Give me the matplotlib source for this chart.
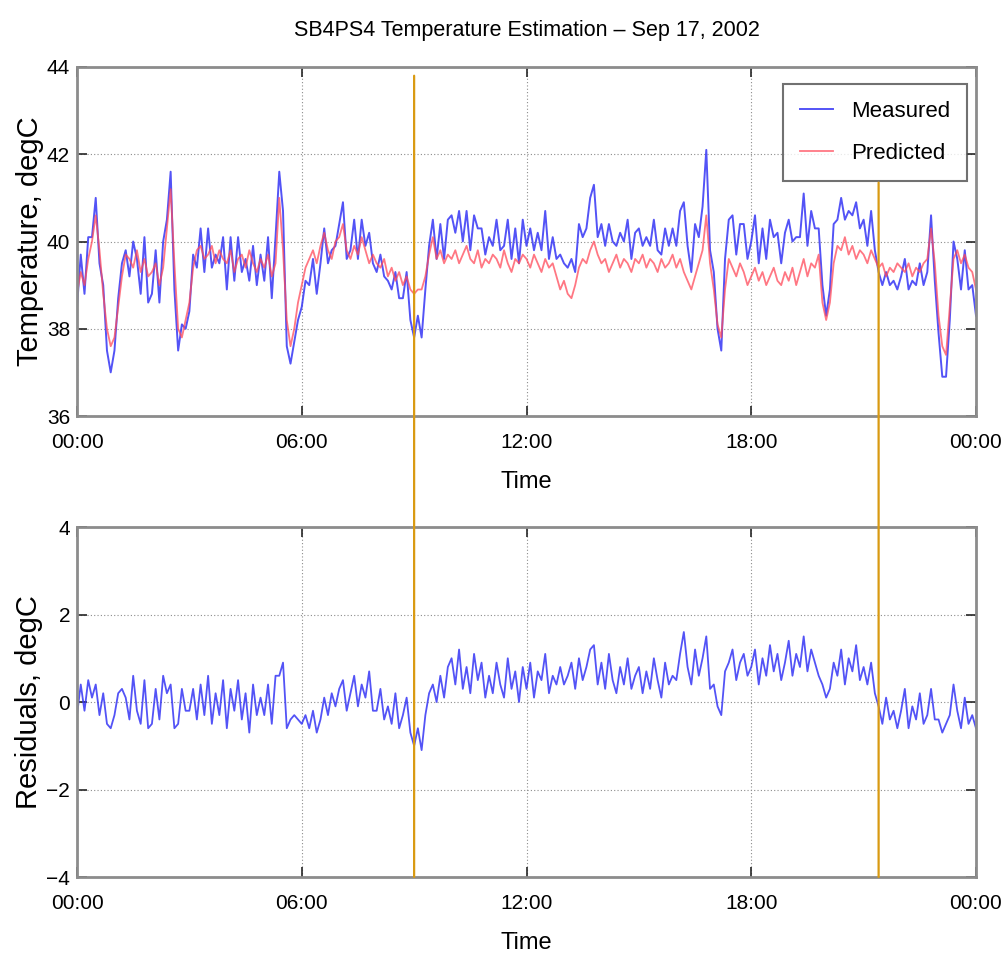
import numpy as np
import matplotlib
matplotlib.use("Agg")
import matplotlib.pyplot as plt
from matplotlib.patches import ConnectionPatch

# ---------------- data (6-minute samples) ----------------
title = "SB4PS4 Temperature Estimation \u2013 Sep 17, 2002"
sample_hours = 0.1

# predicted temperature, one row per hour (10 samples each)
predicted_rows = [
    [38.8, 39.3, 39.0, 39.6, 40.0, 40.6, 39.8, 38.8, 38.0, 37.6],
    [37.8, 38.5, 39.2, 39.7, 39.6, 39.4, 39.8, 39.3, 39.6, 39.2],
    [39.3, 39.5, 39.0, 39.4, 40.3, 41.2, 39.5, 38.0, 37.8, 38.2],
    [38.6, 39.4, 39.8, 39.9, 39.6, 39.7, 39.9, 39.5, 39.8, 39.6],
    [39.5, 39.8, 39.3, 39.6, 39.7, 39.4, 39.8, 39.5, 39.3, 39.6],
    [39.4, 39.7, 39.2, 39.5, 41.0, 39.8, 38.2, 37.6, 38.0, 38.6],
    [39.0, 39.4, 39.6, 39.8, 39.5, 39.9, 40.2, 39.8, 39.6, 40.0],
    [40.1, 40.4, 39.8, 39.6, 39.9, 39.7, 40.1, 39.8, 39.5, 39.7],
    [39.5, 39.4, 39.6, 39.2, 39.4, 39.1, 39.3, 39.0, 39.2, 38.9],
    [38.8, 38.9, 38.9, 39.2, 39.7, 40.1, 39.6, 39.8, 39.5, 39.7],
    [39.6, 39.8, 39.5, 39.7, 39.9, 39.6, 39.5, 39.8, 39.4, 39.6],
    [39.5, 39.7, 39.6, 39.4, 39.8, 39.5, 39.3, 39.6, 39.5, 39.7],
    [39.6, 39.4, 39.7, 39.5, 39.3, 39.6, 39.4, 39.5, 39.2, 38.9],
    [39.1, 38.8, 38.7, 39.0, 39.4, 39.6, 39.5, 39.8, 40.0, 39.7],
    [39.5, 39.6, 39.3, 39.5, 39.7, 39.4, 39.6, 39.5, 39.3, 39.6],
    [39.5, 39.7, 39.4, 39.6, 39.5, 39.3, 39.6, 39.4, 39.5, 39.7],
    [39.4, 39.6, 39.3, 39.1, 38.9, 39.2, 39.5, 39.8, 40.6, 39.5],
    [38.9, 38.1, 37.8, 38.9, 39.6, 39.4, 39.2, 39.5, 39.3, 39.0],
    [39.2, 39.4, 39.1, 39.3, 39.0, 39.2, 39.4, 39.1, 39.0, 39.3],
    [39.1, 39.4, 39.0, 39.3, 39.6, 39.2, 39.5, 39.4, 39.7, 38.6],
    [38.2, 38.6, 39.5, 39.9, 39.8, 40.1, 39.7, 39.9, 39.6, 39.8],
    [39.7, 39.5, 39.8, 39.6, 39.4, 39.5, 39.2, 39.4, 39.3, 39.5],
    [39.4, 39.3, 39.5, 39.2, 39.4, 39.3, 39.5, 39.6, 40.3, 39.5],
    [38.3, 37.6, 37.4, 38.5, 39.6, 39.8, 39.5, 39.7, 39.4, 39.3],
    [38.9],
]

# residuals (measured - predicted), one row per hour
residual_rows = [
    [-0.3, 0.4, -0.2, 0.5, 0.1, 0.4, -0.3, 0.2, -0.5, -0.6],
    [-0.3, 0.2, 0.3, 0.1, -0.4, 0.6, -0.2, -0.5, 0.5, -0.6],
    [-0.5, 0.3, -0.4, 0.6, 0.2, 0.4, -0.6, -0.5, 0.3, -0.2],
    [-0.2, 0.3, -0.4, 0.4, -0.3, 0.6, -0.5, 0.2, -0.3, 0.5],
    [-0.6, 0.3, -0.2, 0.5, -0.4, 0.2, -0.7, 0.4, -0.3, 0.1],
    [-0.3, 0.4, -0.5, 0.6, 0.6, 0.9, -0.6, -0.4, -0.3, -0.4],
    [-0.5, -0.3, -0.6, -0.2, -0.7, -0.4, 0.1, -0.3, 0.2, -0.1],
    [0.3, 0.5, -0.2, 0.2, 0.6, -0.1, 0.4, 0.1, 0.7, -0.2],
    [-0.2, 0.3, -0.4, -0.1, -0.5, 0.2, -0.6, -0.3, 0.1, -0.7],
    [-1.0, -0.6, -1.1, -0.3, 0.2, 0.4, 0.0, 0.6, 0.1, 0.8],
    [1.0, 0.4, 1.2, 0.3, 0.8, 0.2, 1.1, 0.5, 0.9, 0.1],
    [0.6, 0.2, 0.9, 0.4, 0.1, 1.0, 0.3, 0.7, 0.0, 0.8],
    [0.3, 0.9, 0.1, 0.7, 0.5, 1.1, 0.2, 0.6, 0.4, 0.8],
    [0.4, 0.6, 0.9, 0.3, 1.0, 0.5, 0.8, 1.2, 1.3, 0.4],
    [0.9, 0.3, 1.1, 0.5, 0.2, 0.8, 0.4, 1.0, 0.3, 0.6],
    [0.8, 0.2, 0.7, 0.3, 1.0, 0.5, 0.1, 0.9, 0.4, 0.6],
    [0.5, 1.1, 1.6, 0.8, 0.4, 1.2, 0.6, 1.0, 1.5, 0.3],
    [0.4, -0.1, -0.3, 0.7, 0.9, 1.2, 0.5, 0.9, 1.1, 0.6],
    [0.8, 1.2, 0.4, 1.0, 0.6, 1.3, 0.7, 1.1, 0.5, 0.9],
    [1.4, 0.6, 1.1, 0.8, 1.5, 0.7, 1.2, 0.9, 0.6, 0.4],
    [0.1, 0.3, 0.9, 0.6, 1.2, 0.4, 1.0, 0.7, 1.3, 0.5],
    [0.8, 0.4, 0.9, 0.2, -0.1, -0.5, 0.1, -0.4, -0.2, -0.6],
    [-0.2, 0.3, -0.6, -0.1, -0.4, 0.2, -0.5, -0.3, 0.3, -0.4],
    [-0.4, -0.7, -0.5, -0.3, 0.4, -0.2, -0.6, 0.1, -0.5, -0.3],
    [-0.6],
]

xtick_hours = [0, 6, 12, 18, 24]
xtick_labels = ["00:00", "06:00", "12:00", "18:00", "00:00"]
temp_ticks = [36, 38, 40, 42, 44]
resid_ticks = [-4, -2, 0, 2, 4]
marker_hours = [9.0, 21.4]        # vertical orange markers
marker_top_temp = [43.8, 41.35]   # where each marker starts in the top panel

# ---------------- derived series ----------------
predicted = np.concatenate([np.array(r, dtype=float) for r in predicted_rows])
residual = np.concatenate([np.array(r, dtype=float) for r in residual_rows])
measured = predicted + residual
time_h = np.arange(len(predicted)) * sample_hours

# ---------------- styling ----------------
plt.rcParams['font.family'] = ['Liberation Sans', 'DejaVu Sans']
W, H = 1006, 971
fig = plt.figure(figsize=(W / 100, H / 100), dpi=100)

ax1 = fig.add_axes([77 / W, 1 - 416 / H, 899 / W, 349 / H])
ax2 = fig.add_axes([77 / W, 1 - 877 / H, 899 / W, 350 / H])

blue = "#3535f5"
red = "#ff4a5a"
tick_fs = 15

for ax in (ax1, ax2):
    ax.set_xlim(0, 24)
    ax.set_xticks(xtick_hours)
    ax.set_xticklabels(xtick_labels)
    ax.grid(True, linestyle=(0, (1, 2)), color="0.55", linewidth=0.8)
    ax.tick_params(direction="in", top=True, right=True, length=7,
                   width=1.2, labelsize=tick_fs, color="0.15")
    ax.tick_params(axis="x", pad=12)
    ax.tick_params(axis="y", pad=5)
    for s in ax.spines.values():
        s.set_color("0.55")
        s.set_linewidth(2.0)
    ax.set_xlabel("Time", fontsize=17, labelpad=14)

ax1.plot(time_h, measured, color=blue, lw=1.4, alpha=0.85, label="Measured")
ax1.plot(time_h, predicted, color=red, lw=1.3, alpha=0.75, label="Predicted")
ax1.set_ylim(36, 44)
ax1.set_yticks(temp_ticks)
ax1.set_ylabel("Temperature, degC", fontsize=21, labelpad=2)
ax1.set_title(title, fontsize=15.5, pad=22)

leg = ax1.legend(loc="upper right", bbox_to_anchor=(0.99, 0.951),
                 borderaxespad=0.0, fontsize=16, frameon=True, fancybox=False,
                 handlelength=1.5, handletextpad=0.8, borderpad=0.75,
                 labelspacing=0.95, edgecolor="0.3", shadow=False)
leg.get_frame().set_linewidth(1.5)

ax2.plot(time_h, residual, color=blue, lw=1.3, alpha=0.85)
ax2.set_ylim(-4, 4)
ax2.set_yticks(resid_ticks)
ax2.set_ylabel("Residuals, degC", fontsize=21, labelpad=2)

for hx, ytop in zip(marker_hours, marker_top_temp):
    con = ConnectionPatch(xyA=(hx, ytop), coordsA="data", axesA=ax1,
                          xyB=(hx, -4), coordsB="data", axesB=ax2,
                          color="#d99a12", linewidth=1.6, zorder=10)
    fig.add_artist(con)

fig.savefig("out.png", dpi=100)
